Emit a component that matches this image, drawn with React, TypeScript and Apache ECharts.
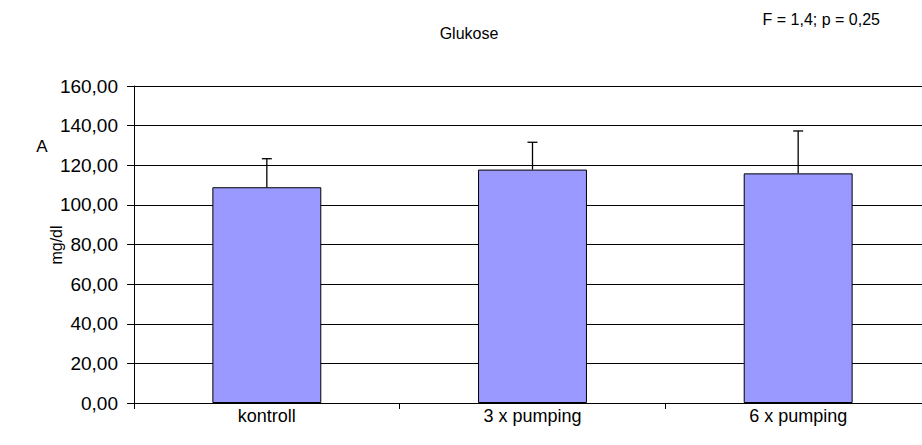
import React, { useEffect, useRef } from "react";
import * as echarts from "echarts";

const categories = ["kontroll", "3 x pumping", "6 x pumping"];
const means = [108.9, 117.8, 115.9];
const errors = [14.4, 13.8, 21.4];
const yTicks = { min: 0, max: 160, interval: 20 };

const FONT = "'Liberation Sans', Arial, sans-serif";

export default function App() {
  const ref = useRef<HTMLDivElement>(null);
  useEffect(() => {
    if (!ref.current) return;
    const chart = echarts.init(ref.current, null, { renderer: "svg" });
    chart.setOption({
      animation: false,
      backgroundColor: "#ffffff",
      textStyle: { fontFamily: FONT },
      grid: { left: 134, right: 0, top: 86, bottom: 42, containLabel: false },
      graphic: [
        { type: "text", x: 469, y: 33, style: { text: "Glukose", fontFamily: FONT, fontSize: 16, fill: "#000", align: "center", verticalAlign: "middle" } },
        { type: "text", x: 880, y: 19, style: { text: "F = 1,4; p = 0,25", fontFamily: FONT, fontSize: 16, fill: "#000", align: "right", verticalAlign: "middle" } },
        { type: "text", x: 42, y: 146, style: { text: "A", fontFamily: FONT, fontSize: 17, fill: "#000", align: "center", verticalAlign: "middle" } },
        { type: "text", x: 56, y: 245, rotation: Math.PI / 2, style: { text: "mg/dl", fontFamily: FONT, fontSize: 16, fill: "#000", align: "center", verticalAlign: "middle" } },
      ],
      xAxis: {
        type: "category",
        data: categories,
        axisLine: { show: true, lineStyle: { color: "#000", width: 1 } },
        axisTick: { show: true, alignWithLabel: false, length: 6, lineStyle: { color: "#000" } },
        axisLabel: { color: "#000", fontSize: 18, fontFamily: FONT, margin: 4 },
        splitLine: { show: false },
      },
      yAxis: {
        type: "value",
        min: yTicks.min,
        max: yTicks.max,
        interval: yTicks.interval,
        axisLine: { show: true, lineStyle: { color: "#000", width: 1 } },
        axisTick: { show: true, length: 7, lineStyle: { color: "#000" } },
        axisLabel: {
          color: "#000",
          fontSize: 19,
          fontFamily: FONT,
          margin: 16,
          formatter: (v: number) => v.toFixed(2).replace(".", ","),
        },
        splitLine: { show: true, lineStyle: { color: "#000", width: 1 } },
      },
      series: [
        {
          type: "bar",
          data: means,
          barWidth: "41%",
          itemStyle: { color: "#9999ff", borderColor: "#000", borderWidth: 1 },
          z: 2,
        },
        {
          type: "custom",
          z: 3,
          data: means.map((m, i) => [i, m, m + errors[i]]),
          renderItem: (params: any, api: any) => {
            const x = api.value(0);
            const base = api.coord([x, api.value(1)]);
            const top = api.coord([x, api.value(2)]);
            const half = 5;
            return {
              type: "group",
              children: [
                { type: "line", shape: { x1: base[0], y1: base[1], x2: top[0], y2: top[1] }, style: { stroke: "#000", lineWidth: 1.3 } },
                { type: "line", shape: { x1: top[0] - half, y1: top[1], x2: top[0] + half, y2: top[1] }, style: { stroke: "#000", lineWidth: 1.3 } },
              ],
            };
          },
        },
      ],
    });
    return () => chart.dispose();
  }, []);
  return (
    <div style={{ position: "absolute", left: 0, top: 0, width: 922, height: 445, overflow: "hidden", background: "#fff" }}>
      <div ref={ref} style={{ width: 931, height: 445 }} />
    </div>
  );
}
